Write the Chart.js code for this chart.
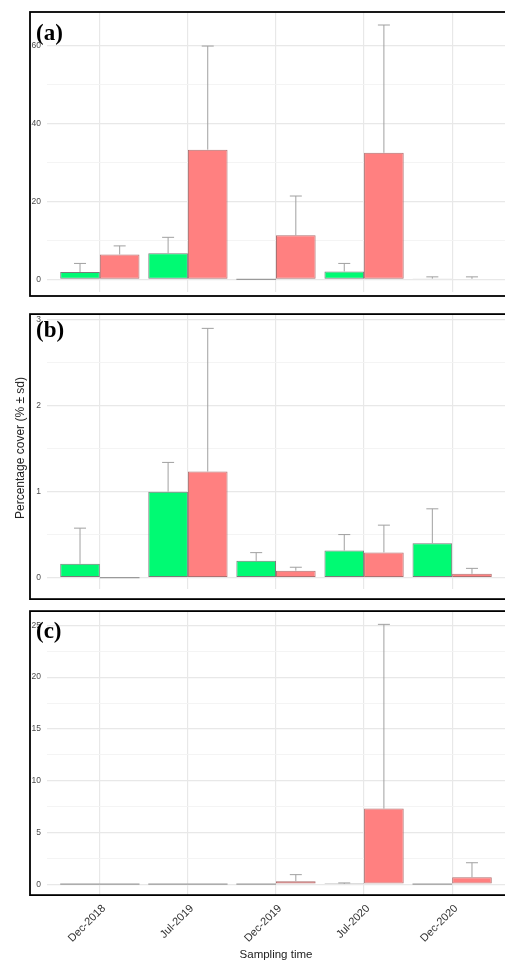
<!DOCTYPE html>
<html>
<head>
<meta charset="utf-8">
<script src="https://cdn.jsdelivr.net/npm/chart.js@4.4.1/dist/chart.umd.min.js"></script>
<style>
  body { margin: 0; background: #fff; }
  #wrap { position: relative; width: 505px; height: 963px; font-family: "Liberation Sans", Arial, sans-serif; }
  canvas { position: absolute; left: 0; }
  .tag { position: absolute; left: 36px; font: bold 23px "Liberation Serif", "Times New Roman", serif; line-height: 1; color: #000; }
  #ytitle { position: absolute; left: 20px; top: 448px; transform: translate(-50%, -50%) rotate(-90deg);
            white-space: nowrap; font-size: 12px; color: #222; }
</style>
</head>
<body>
<div id="wrap">
  <canvas id="chartA" width="505" height="303" style="top:0"></canvas>
  <canvas id="chartB" width="505" height="297" style="top:303px"></canvas>
  <canvas id="chartC" width="505" height="363" style="top:600px"></canvas>
  <div class="tag" style="top:21px">(a)</div>
  <div class="tag" style="top:318px">(b)</div>
  <div class="tag" style="top:619px">(c)</div>
  <div id="ytitle">Percentage cover (% ± sd)</div>
</div>
<script>
var categories = ['Dec-2018', 'Jul-2019', 'Dec-2019', 'Jul-2020', 'Dec-2020'];

// panel (a)
var greenA = [1.9, 6.7, 0, 2.05, 0.2];
var greenSdA = [2.2, 4.1, 0, 2.05, 0.45];
var redA = [6.4, 33.3, 11.3, 32.5, 0.15];
var redSdA = [2.2, 26.6, 10.1, 32.8, 0.5];
var gridA = [0, 10, 20, 30, 40, 50, 60];
var labelsA = [0, 20, 40, 60];

// panel (b)
var greenB = [0.16, 1.0, 0.195, 0.315, 0.4];
var greenSdB = [0.415, 0.34, 0.095, 0.185, 0.4];
var redB = [0, 1.234, 0.08, 0.293, 0.044];
var redSdB = [0, 1.666, 0.04, 0.317, 0.063];
var gridB = [0, 0.5, 1, 1.5, 2, 2.5, 3];
var labelsB = [0, 1, 2, 3];

// panel (c)
var greenC = [0, 0, 0, 0.02, 0];
var greenSdC = [0, 0, 0, 0.1, 0];
var redC = [0, 0, 0.29, 7.3, 0.67];
var redSdC = [0, 0, 0.63, 17.8, 1.4];
var gridC = [0, 2.5, 5, 7.5, 10, 12.5, 15, 17.5, 20, 22.5, 25];
var labelsC = [0, 5, 10, 15, 20, 25];

var green = 'rgb(0,250,115)';
var red = 'rgb(255,128,128)';

// error bars (mean to mean + sd) and flat lines for zero bars
var errorBars = {
  id: 'errorBars',
  afterDatasetsDraw: function(chart) {
    var ctx = chart.ctx;
    var y = chart.scales.y;
    ctx.save();
    chart.data.datasets.forEach(function(ds, di) {
      var meta = chart.getDatasetMeta(di);
      meta.data.forEach(function(bar, i) {
        var v = ds.data[i].y;
        if (v === 0) {
          ctx.strokeStyle = '#9a9a9a';
          ctx.lineWidth = 1.2;
          ctx.beginPath();
          ctx.moveTo(bar.x - bar.width / 2, y.getPixelForValue(0));
          ctx.lineTo(bar.x + bar.width / 2, y.getPixelForValue(0));
          ctx.stroke();
        }
        var sd = ds.sd[i];
        if (!sd) return;
        var y0 = y.getPixelForValue(v);
        var y1 = y.getPixelForValue(v + sd);
        ctx.strokeStyle = '#a0a0a0';
        ctx.lineWidth = 1;
        ctx.beginPath();
        ctx.moveTo(bar.x, y0);
        ctx.lineTo(bar.x, y1);
        ctx.moveTo(bar.x - 6, y1);
        ctx.lineTo(bar.x + 6, y1);
        ctx.stroke();
      });
    });
    ctx.restore();
  }
};

var frame = {
  id: 'frame',
  afterDraw: function(chart, args, opts) {
    var ctx = chart.ctx;
    var top = chart.chartArea.top;
    ctx.save();
    ctx.strokeStyle = '#000';
    ctx.lineWidth = 1.8;
    ctx.strokeRect(30, top, 480, opts.height);
    ctx.restore();
  }
};

function series(vals) {
  return vals.map(function(v, i) { return { x: i + 1, y: v }; });
}

function makePanel(id, g, gSd, r, rSd, yMin, yMax, grid, labels, padTop, frameH, bottom) {
  new Chart(document.getElementById(id), {
    type: 'bar',
    data: {
      datasets: [
        { label: 'green', data: series(g), sd: gSd, backgroundColor: green, borderColor: '#7a7a7a', borderWidth: 1, borderSkipped: false },
        { label: 'red', data: series(r), sd: rSd, backgroundColor: red, borderColor: '#b07070', borderWidth: 1, borderSkipped: false }
      ]
    },
    options: {
      responsive: false,
      animation: false,
      categoryPercentage: 0.9,
      barPercentage: 1,
      layout: { padding: { top: padTop, left: 0, right: 0, bottom: 0 } },
      plugins: { legend: { display: false }, tooltip: { enabled: false }, frame: { height: frameH } },
      scales: {
        x: {
          type: 'linear',
          min: 0.4,
          max: 5.6,
          offset: false,
          afterBuildTicks: function(s) { s.ticks = categories.map(function(c, i) { return { value: i + 1 }; }); },
          afterFit: function(s) { s.height = bottom ? 67 : 0; },
          border: { display: false },
          grid: { offset: false, color: 'rgb(232,232,232)', lineWidth: 1.2, drawTicks: false },
          ticks: {
            display: bottom,
            autoSkip: false,
            minRotation: 45,
            maxRotation: 45,
            padding: 6,
            labelOffset: 4,
            color: '#333',
            font: { size: 11, family: '"Liberation Sans", Arial, sans-serif' },
            callback: function(v, i) { return categories[i]; }
          },
          title: {
            display: bottom,
            text: 'Sampling time',
            color: '#222',
            padding: { top: 0, bottom: 1 },
            font: { size: 11.5, family: '"Liberation Sans", Arial, sans-serif' }
          }
        },
        y: {
          min: yMin,
          max: yMax,
          afterBuildTicks: function(s) { s.ticks = grid.map(function(v) { return { value: v }; }); },
          afterFit: function(s) { s.width = 47; },
          border: { display: false },
          grid: {
            drawTicks: false,
            color: function(c) { return labels.indexOf(c.tick.value) >= 0 ? 'rgb(232,232,232)' : 'rgb(243,243,243)'; },
            lineWidth: function(c) { return labels.indexOf(c.tick.value) >= 0 ? 1.2 : 0.9; }
          },
          ticks: {
            padding: 6,
            color: '#4d4d4d',
            font: { size: 8.5, family: '"Liberation Sans", Arial, sans-serif' },
            callback: function(v) { return labels.indexOf(v) >= 0 ? String(v) : ''; }
          }
        }
      }
    },
    plugins: [errorBars, frame]
  });
}

makePanel('chartA', greenA, greenSdA, redA, redSdA, -3.21, 68.64, gridA, labelsA, 12, 284, false);
makePanel('chartB', greenB, greenSdB, redB, redSdB, -0.132, 3.066, gridB, labelsB, 6, 285, false);
makePanel('chartC', greenC, greenSdC, redC, redSdC, -1.143, 26.38, gridC, labelsC, 7, 284, true);
</script>
</body>
</html>
